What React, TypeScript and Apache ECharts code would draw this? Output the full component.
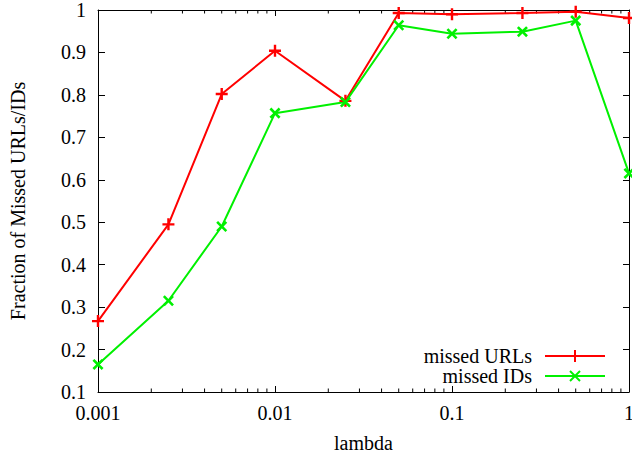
import React, { useEffect, useRef } from "react";
import * as echarts from "echarts";

const lambdas = [0.001, 0.0025, 0.005, 0.01, 0.025, 0.05, 0.1, 0.25, 0.5, 1];
const missedURLs = [0.267, 0.495, 0.802, 0.904, 0.786, 0.993, 0.99, 0.993, 0.996, 0.981];
const missedIDs = [0.165, 0.315, 0.49, 0.757, 0.783, 0.964, 0.944, 0.949, 0.975, 0.615];
const minorTicks = [
  0.002, 0.003, 0.004, 0.005, 0.006, 0.007, 0.008, 0.009,
  0.02, 0.03, 0.04, 0.05, 0.06, 0.07, 0.08, 0.09,
  0.2, 0.3, 0.4, 0.5, 0.6, 0.7, 0.8, 0.9,
];
const seriesNames = ["missed URLs", "missed IDs"];
const xName = "lambda";
const yName = "Fraction of Missed URLs/IDs";

const FONT = "Liberation Serif";
const FS = 20;
const RED = "#ff0000";
const GREEN = "#00f000";
const PLUS = "path://M4,0h2v4h4v2h-4v4h-2v-4h-4v-2h4z";

export default function App() {
  const ref = useRef<HTMLDivElement>(null);
  useEffect(() => {
    if (!ref.current) return;
    const chart = echarts.init(ref.current, null, { renderer: "svg" });
    const txt = { color: "#000", fontFamily: FONT, fontSize: FS };
    const legendY = [356, 376];
    const lx1 = 545, lx2 = 605, lm = 575, ltx = 532;
    const graphics: any[] = [];
    seriesNames.forEach((n, i) => {
      const c = i === 0 ? RED : GREEN;
      const y = legendY[i];
      graphics.push({
        type: "text", x: ltx, y: y,
        style: { text: n, fill: "#000", font: `${FS}px "${FONT}"`, align: "right", verticalAlign: "middle" },
      });
      graphics.push({ type: "line", shape: { x1: lx1, y1: y, x2: lx2, y2: y }, style: { stroke: c, lineWidth: 2 } });
      if (i === 0) {
        graphics.push({ type: "line", shape: { x1: lm - 6, y1: y, x2: lm + 6, y2: y }, style: { stroke: c, lineWidth: 2 } });
        graphics.push({ type: "line", shape: { x1: lm, y1: y - 6, x2: lm, y2: y + 6 }, style: { stroke: c, lineWidth: 2 } });
      } else {
        graphics.push({ type: "line", shape: { x1: lm - 5, y1: y - 5, x2: lm + 5, y2: y + 5 }, style: { stroke: c, lineWidth: 2 } });
        graphics.push({ type: "line", shape: { x1: lm - 5, y1: y + 5, x2: lm + 5, y2: y - 5 }, style: { stroke: c, lineWidth: 2 } });
      }
    });
    const axisLine = { show: true, lineStyle: { color: "#000", width: 1 } };
    chart.setOption({
      animation: false,
      backgroundColor: "#fff",
      grid: { left: 98, right: 3, top: 10, bottom: 66, containLabel: false, outerBoundsMode: "none" },
      xAxis: [
        {
          type: "log", logBase: 10, min: 0.001, max: 1, position: "bottom",
          axisLine, axisTick: { inside: true, length: 6, lineStyle: { color: "#000" } },
          axisLabel: { ...txt, margin: 11 },
          splitLine: { show: false },
          name: xName, nameLocation: "middle", nameGap: 41, nameTextStyle: txt,
        },
        {
          type: "log", logBase: 10, min: 0.001, max: 1, position: "top",
          axisLine, axisTick: { inside: true, length: 6, lineStyle: { color: "#000" } },
          axisLabel: { show: false }, splitLine: { show: false },
        },
      ],
      yAxis: [
        {
          type: "value", min: 0.1, max: 1, interval: 0.1, position: "left",
          axisLine, axisTick: { inside: true, length: 7, lineStyle: { color: "#000" } },
          axisLabel: { ...txt, margin: 12 },
          splitLine: { show: false },
          name: yName, nameLocation: "middle", nameGap: 70, nameRotate: 90, nameTextStyle: txt,
        },
        {
          type: "value", min: 0.1, max: 1, interval: 0.1, position: "right",
          axisLine, axisTick: { inside: true, length: 6, lineStyle: { color: "#000" } },
          axisLabel: { show: false }, splitLine: { show: false },
        },
      ],
      series: [
        {
          type: "custom", xAxisIndex: 0, yAxisIndex: 0, silent: true,
          data: minorTicks.map((v) => [v, 0.1]),
          encode: { x: 0, y: 1 },
          renderItem: (params: any, api: any) => {
            const v = api.value(0);
            const b = api.coord([v, 0.1]);
            const t = api.coord([v, 1]);
            return {
              type: "group",
              children: [
                { type: "line", shape: { x1: b[0], y1: b[1], x2: b[0], y2: b[1] - 3.5 }, style: { stroke: "#000", lineWidth: 1 } },
                { type: "line", shape: { x1: t[0], y1: t[1], x2: t[0], y2: t[1] + 3.5 }, style: { stroke: "#000", lineWidth: 1 } },
              ],
            };
          },
        },
        {
          name: seriesNames[0], type: "line", xAxisIndex: 0, yAxisIndex: 0,
          data: lambdas.map((x, i) => [x, missedURLs[i]]),
          symbol: PLUS, symbolSize: 12, showAllSymbol: true,
          lineStyle: { color: RED, width: 2 }, itemStyle: { color: RED },
          clip: false,
        },
        {
          name: seriesNames[1], type: "line", xAxisIndex: 0, yAxisIndex: 0,
          data: lambdas.map((x, i) => [x, missedIDs[i]]),
          symbol: PLUS, symbolSize: 13, symbolRotate: 45, showAllSymbol: true,
          lineStyle: { color: GREEN, width: 2 }, itemStyle: { color: GREEN },
          clip: false,
        },
      ],
      graphic: graphics,
    });
    return () => chart.dispose();
  }, []);
  return <div ref={ref} style={{ width: 632, height: 458, position: "absolute", left: 0, top: 0 }} />;
}
